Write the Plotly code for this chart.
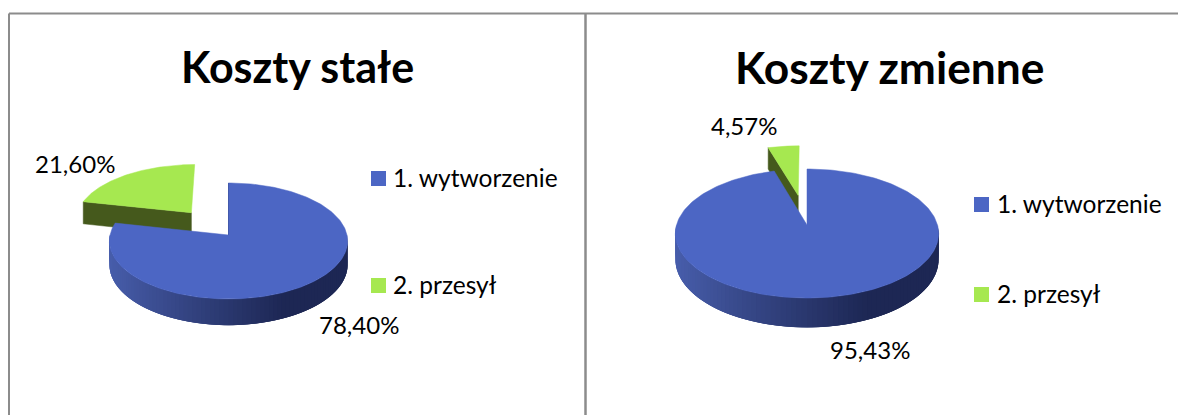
import math
import plotly.graph_objects as go

categories = ["1. wytworzenie", "2. przesył"]
titles = ["Koszty stałe", "Koszty zmienne"]
fixed_costs = [78.40, 21.60]
variable_costs = [95.43, 4.57]

W, H = 1178, 415
BLUE, GREEN = "#4c66c4", "#a6e850"
GREEN_WALL = "#45591c"
WALL_LIGHT, WALL_DARK = (72, 94, 172), (29, 39, 84)

# Pixel-space scene of each pie: apex, plane-to-screen scales, perspective, rim depth
panels = [
    dict(values=fixed_costs, cx=228.5, cy=235, k=118.5, b=57.4, a=0.103, h=23.5, notch=True, pull=0.52,
         title_x=297, title_y=66, title_size=43, legend_x=371, legend_dx=20, legend_y=[178.5, 285.5],
         lab=[(359, 324), (75, 163)]),
    dict(values=variable_costs, cx=807, cy=225, k=130.5, b=63.4, a=0.132, h=25.5, notch=False, pull=0.5,
         title_x=889, title_y=66, title_size=44.3, legend_x=974, legend_dx=21, legend_y=[204.5, 294.5],
         lab=[(870, 349), (744, 125)]),
]


def project(p, u, v, down=0.0):
    d = 1 - p["a"] * v
    return p["cx"] + p["k"] * u / d, p["cy"] + (p["b"] * v + down) / d


def rim(p, t0, t1, off=(0, 0), n=120, down=0.0):
    out = []
    for i in range(n + 1):
        t = math.radians(t0 + (t1 - t0) * i / n)
        out.append(project(p, off[0] + math.sin(t), off[1] - math.cos(t), down))
    return out


def poly(pts, color, width=0.5):
    xs, ys = zip(*pts)
    return go.Scatter(x=list(xs) + [xs[0]], y=list(ys) + [ys[0]], mode="lines", fill="toself",
                      fillcolor=color, line=dict(color=color, width=width),
                      hoverinfo="skip", showlegend=False)


fig = go.Figure()
annotations, shapes = [], []

for p in panels:
    share = p["values"][0] / sum(p["values"]) * 360
    mid = math.radians((share + 360) / 2)
    off = (p["pull"] * math.sin(mid), -p["pull"] * math.cos(mid))

    # pulled-out slice: wall first, then top face
    apex = project(p, *off)
    apex_low = project(p, *off, p["h"])
    edge = rim(p, share, 360, off)
    edge_low = rim(p, share, 360, off, down=p["h"])
    fig.add_trace(poly([apex, edge[0], edge_low[0], apex_low], GREEN_WALL))
    fig.add_trace(poly([apex] + edge, GREEN))

    if p["notch"]:
        top = project(p, 0, -1)
        fig.add_trace(go.Scatter(x=[top[0], top[0]], y=[top[1], p["cy"]], mode="lines",
                                 line=dict(color="#26325f", width=1),
                                 hoverinfo="skip", showlegend=False))

    # outer wall of the large slice, shaded in strips painted so that each overlaps the last
    strips = 90
    t0, t1 = 90, 270
    step = (t1 - t0) / strips
    for i in range(strips - 1, -1, -1):
        a0 = t1 - step * (strips - 1 - i) - step
        a1 = min(a0 + 3 * step, t1)
        upper = rim(p, a0, a1, n=6)
        lower = rim(p, a0, a1, n=6, down=p["h"])
        xm = upper[0][0]
        pos = (xm - (p["cx"] - p["k"])) / (1.55 * p["k"])
        f = min(1.0, max(0.0, pos))
        c = tuple(round(l + (d - l) * f) for l, d in zip(WALL_LIGHT, WALL_DARK))
        fig.add_trace(poly(upper + lower[::-1], "rgb(%d,%d,%d)" % c, 0))

    # top face of the large slice
    fig.add_trace(poly([project(p, 0, 0)] + rim(p, 0, share, n=240), BLUE))

    # texts
    i_title = panels.index(p)
    annotations.append(dict(x=p["title_x"], y=p["title_y"], text="<b>%s</b>" % titles[i_title],
                            showarrow=False, xanchor="center", yanchor="middle",
                            font=dict(family="Lato", size=p["title_size"], color="#000000")))
    for cat, col, ly in zip(categories, (BLUE, GREEN), p["legend_y"]):
        shapes.append(dict(type="rect", xref="x", yref="y", x0=p["legend_x"], x1=p["legend_x"] + 15,
                           y0=ly - 7.5, y1=ly + 7.5, fillcolor=col, line=dict(width=0)))
        annotations.append(dict(x=p["legend_x"] + p["legend_dx"], y=ly - 1, text=cat, showarrow=False,
                                xanchor="left", yanchor="middle",
                                font=dict(family="Lato", size=24.5, color="#000000")))
    for val, (lx, ly) in zip(p["values"], p["lab"]):
        annotations.append(dict(x=lx, y=ly, text=f"{val:.2f}%".replace(".", ","), showarrow=False,
                                xanchor="center", yanchor="middle",
                                font=dict(family="Lato", size=24, color="#000000")))

# panel frame
for x0, y0, x1, y1, w in [(9, 13.5, W, 13.5, 2), (9, 13.5, 9, H, 2), (585.5, 13.5, 585.5, H, 2.5)]:
    shapes.append(dict(type="line", xref="x", yref="y", x0=x0, y0=y0, x1=x1, y1=y1,
                       line=dict(color="#8c8c8c", width=w)))

hidden = dict(visible=False, fixedrange=True)
fig.update_layout(width=W, height=H, margin=dict(l=0, r=0, t=0, b=0),
                  paper_bgcolor="white", plot_bgcolor="white", showlegend=False,
                  xaxis=dict(range=[0, W], **hidden), yaxis=dict(range=[H, 0], **hidden),
                  annotations=annotations, shapes=shapes)
fig.write_html("out.html", config=dict(displayModeBar=False),
               post_script="document.body.style.margin='0';document.body.style.overflow='hidden';")
